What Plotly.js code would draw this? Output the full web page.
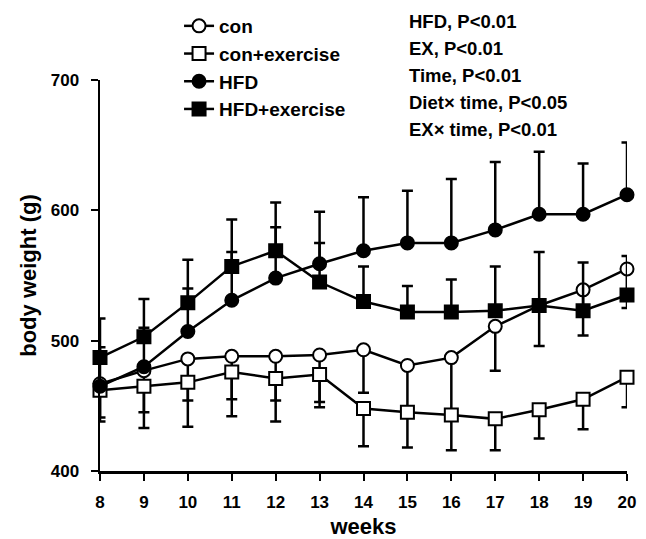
<!DOCTYPE html>
<html><head><meta charset="utf-8">
<script src="https://cdn.plot.ly/plotly-3.0.1.min.js"></script>
<style>html,body{margin:0;padding:0;background:#fff}</style>
</head><body><div id="chart" style="width:646px;height:539px"></div>
<script>
var weeks = [8,9,10,11,12,13,14,15,16,17,18,19,20];
var con      = [467,477,486,488,488,489,493,481,487,511,527,539,555];
var conErr   = [29,32,32,33,34,36,33,38,44,34,31,35,30];   // drawn downward
var conEx    = [462,465,468,476,471,474,448,445,443,440,447,455,472];
var conExErr = [21,32,34,34,33,25,29,27,27,24,22,23,23];   // drawn downward
var hfd      = [465,480,507,531,548,559,569,575,575,585,597,597,612];
var hfdErr   = [30,30,33,37,39,40,41,40,49,52,48,39,40];   // drawn upward
var hfdEx    = [487,503,529,557,569,545,530,522,522,523,527,523,535];
var hfdExErr = [30,29,33,36,37,30,27,20,25,34,41,37,30];   // drawn upward
var zeros = weeks.map(function(){return 0;});
var statsText = ["HFD, P<0.01","EX, P<0.01","Time, P<0.01","Diet\u00d7 time, P<0.05","EX\u00d7 time, P<0.01"];

function tr(name, y, err, up, symbol, fill){
  return {
    x: weeks, y: y, name: name, legendgroup: name, type: 'scatter', mode: 'lines+markers',
    line: {color: '#000', width: 2.5},
    marker: {symbol: symbol, size: 13, color: fill, line: {color: '#000', width: 2}},
    error_y: {type: 'data', symmetric: false,
      array: up ? err : zeros, arrayminus: up ? zeros : err,
      color: '#000', thickness: 2.5, width: 5.5},
    cliponaxis: false
  };
}
var data = [
  tr('con', con, conErr, false, 'circle', '#fff'),
  tr('con+exercise', conEx, conExErr, false, 'square', '#fff'),
  tr('HFD', hfd, hfdErr, true, 'circle', '#000'),
  tr('HFD+exercise', hfdEx, hfdExErr, true, 'square', '#000')
];
var F = 'Liberation Sans, Arial, sans-serif';
var T = 80, B = 68, H = 539, PH = H - T - B;
function py(p){ return (H - B - p) / PH; }
var ann = statsText.map(function(s, i){
  return {xref: 'paper', yref: 'paper', x: (407-100)/527, y: py(22 + i*26.8),
    xanchor: 'left', yanchor: 'middle', text: s, showarrow: false, align: 'left',
    font: {family: F, size: 18.5, color: '#000', weight: 'bold'}};
});
var layout = {
  width: 646, height: 539,
  margin: {l: 100, r: 19, t: T, b: B, autoexpand: false},
  paper_bgcolor: '#fff', plot_bgcolor: '#fff',
  font: {family: F, color: '#000', size: 17, weight: 'bold'},
  showlegend: true,
  legend: {x: 0.15, y: py(7), xanchor: 'left', yanchor: 'top', traceorder: 'grouped',
    font: {family: F, size: 19, color: '#000', weight: 'bold'},
    bgcolor: 'rgba(0,0,0,0)', tracegroupgap: 0, itemwidth: 30},
  xaxis: {range: [8, 20], tickmode: 'array', tickvals: weeks, ticktext: weeks.map(String),
    showgrid: false, zeroline: false, showline: true, linecolor: '#000', linewidth: 2.5,
    ticks: 'outside', ticklen: 7, tickwidth: 2, tickcolor: '#000', ticklabelstandoff: 7,
    tickfont: {family: F, size: 17, weight: 'bold'},
    title: {text: 'weeks', font: {family: F, size: 22, weight: 'bold'}, standoff: 13}},
  yaxis: {range: [400, 700], tickvals: [400,500,600,700],
    showgrid: false, zeroline: false, showline: true, linecolor: '#000', linewidth: 2.5,
    ticks: 'outside', ticklen: 7, tickwidth: 2, tickcolor: '#000', ticklabelstandoff: 8,
    tickfont: {family: F, size: 17, weight: 'bold'},
    title: {text: 'body weight (g)', font: {family: F, size: 22, weight: 'bold'}, standoff: 8}},
  annotations: ann
};
Plotly.newPlot('chart', data, layout, {displayModeBar: false, staticPlot: true});
</script></body></html>
